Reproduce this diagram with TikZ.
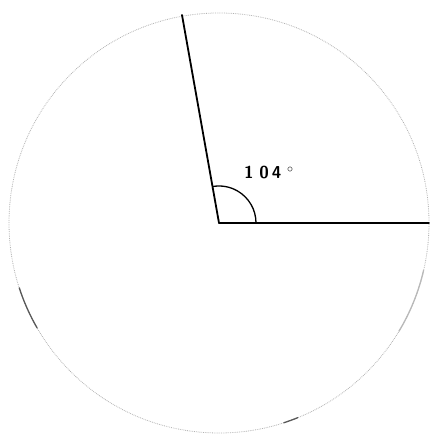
\documentclass[tikz,border=0pt]{standalone}
\usetikzlibrary{angles}
\begin{document}
\begin{tikzpicture}[x=1pt,y=1pt,
  ray/.style={line width=1.8pt,line cap=round},
  rim/.style={gray!60,line width=0.8pt,densely dotted},
  rimdark/.style={gray!70!black,line width=1.3pt,line cap=round},
  lbl/.style={font=\sffamily\bfseries\LARGE}]
\useasboundingbox (0,0) rectangle (429,438);
\coordinate (O) at (219,215);
\coordinate (A) at (429,215);
\coordinate (B) at (182,423);
\draw[rim] (O) circle[radius=210];
\draw[rimdark] ([shift={(198:210)}]O) arc[start angle=198,end angle=210,radius=210];
\draw[rimdark,gray!55] ([shift={(329:210)}]O) arc[start angle=329,end angle=347,radius=210];
\draw[rimdark] ([shift={(288:210)}]O) arc[start angle=288,end angle=292,radius=210];
\draw[ray] (O) -- (A);
\draw[ray] (O) -- (B);
\pic[draw,line width=1.3pt,angle radius=37pt] {angle=A--O--B};
\node[lbl,anchor=west,inner sep=0pt] (L) at (244,265) {1\,\,0\,4\,\,$^\circ$};
\end{tikzpicture}
\end{document}
